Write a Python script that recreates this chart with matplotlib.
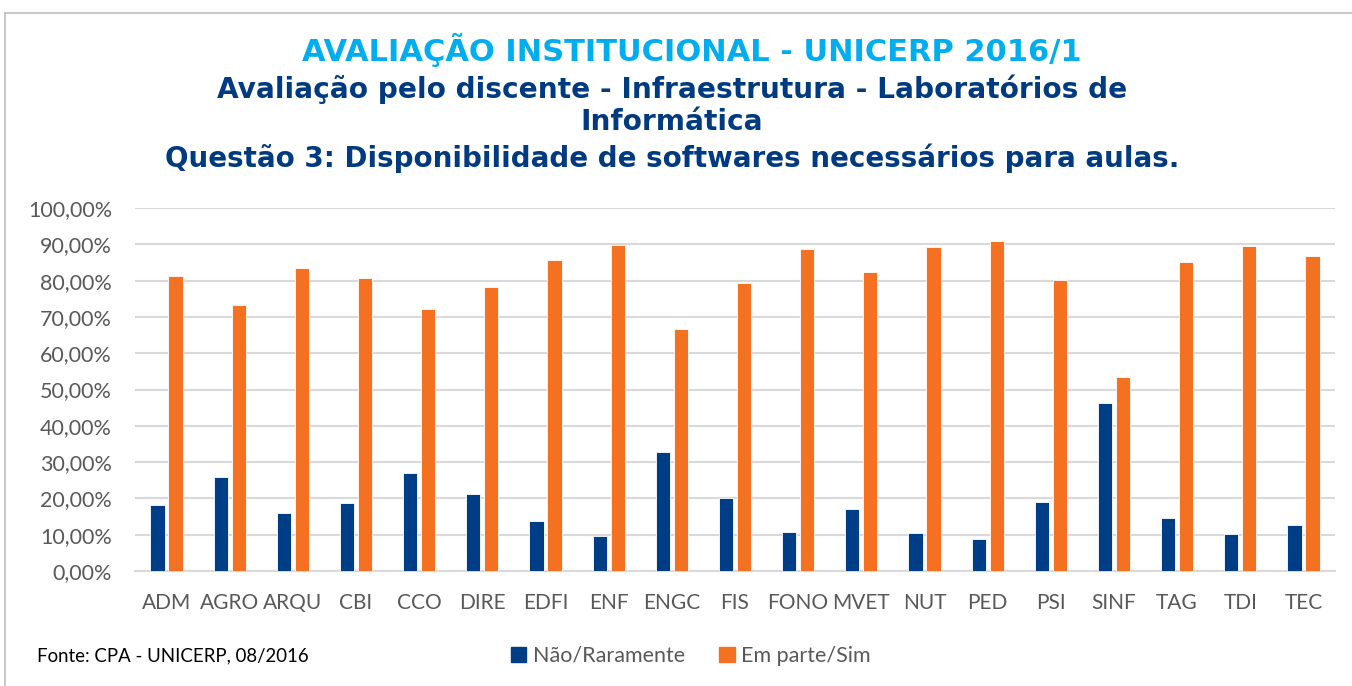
import numpy as np
import matplotlib.pyplot as plt
from matplotlib.lines import Line2D
from matplotlib.patches import Patch
from matplotlib.ticker import FuncFormatter

# data (percent)
cursos = ['ADM', 'AGRO', 'ARQU', 'CBI', 'CCO', 'DIRE', 'EDFI', 'ENF', 'ENGC', 'FIS',
          'FONO', 'MVET', 'NUT', 'PED', 'PSI', 'SINF', 'TAG', 'TDI', 'TEC']
nao_raramente = [18.1, 25.8, 16.0, 18.7, 27.1, 21.3, 13.8, 9.7, 32.8, 20.1,
                 10.7, 17.0, 10.4, 8.7, 19.1, 46.2, 14.5, 10.1, 12.6]
em_parte_sim = [81.3, 73.4, 83.5, 80.7, 72.2, 78.2, 85.6, 89.7, 66.7, 79.4,
                88.8, 82.4, 89.2, 90.9, 80.3, 53.4, 85.0, 89.4, 86.9]
series_labels = ['Não/Raramente', 'Em parte/Sim']

azul = '#003D87'
laranja = '#F37121'
cinza_txt = '#595959'
grade = '#D9D9D9'

fig = plt.figure(figsize=(13.52, 6.86), dpi=100)

# moldura do gráfico (topo e esquerda)
fig.add_artist(Line2D([5 / 1352, 1], [1 - 13 / 686, 1 - 13 / 686], color='#BFBFBF', lw=1.2))
fig.add_artist(Line2D([5 / 1352, 5 / 1352], [0, 1 - 13 / 686], color='#BFBFBF', lw=1.2))

ax = fig.add_axes([135 / 1352, 115 / 686, 1200 / 1352, 363 / 686])

x = np.arange(len(cursos))
w = 0.225
gap = 0.03
ax.bar(x - w / 2 - gap, nao_raramente, w, color=azul, edgecolor='white', linewidth=0.6,
       label=series_labels[0], zorder=3)
ax.bar(x + w / 2 + gap, em_parte_sim, w, color=laranja, edgecolor='white', linewidth=0.6,
       label=series_labels[1], zorder=3)

ax.set_xlim(-0.5, len(cursos) - 0.5)
ax.set_ylim(0, 100)
ax.set_yticks(np.arange(0, 101, 10))
ax.yaxis.set_major_formatter(FuncFormatter(lambda v, p: f'{v:.2f}%'.replace('.', ',')))
ax.set_xticks(x)
ax.set_xticklabels(cursos)
ax.grid(axis='y', color=grade, linewidth=1.5, zorder=0)
ax.tick_params(length=0, colors=cinza_txt)
ax.tick_params(axis='y', labelsize=15.5, pad=16.5)
ax.tick_params(axis='x', labelsize=15, pad=16)
for lab in ax.get_xticklabels() + ax.get_yticklabels():
    lab.set_fontfamily('Lato')
for s in ['top', 'right', 'left']:
    ax.spines[s].set_visible(False)
ax.spines['bottom'].set_color(grade)
ax.spines['bottom'].set_linewidth(1.5)

# títulos
fig.text(0.512, 1 - 50 / 686, 'AVALIAÇÃO INSTITUCIONAL - UNICERP 2016/1', ha='center', va='center',
         fontsize=22, fontweight='bold', color='#00AEEF', family='DejaVu Sans')
fig.text(0.497, 1 - 89 / 686, 'Avaliação pelo discente - Infraestrutura - Laboratórios de', ha='center',
         va='center', fontsize=20.2, fontweight='bold', color='#003A80', family='DejaVu Sans')
fig.text(0.497, 1 - 122 / 686, 'Informática', ha='center', va='center',
         fontsize=20.2, fontweight='bold', color='#003A80', family='DejaVu Sans')
fig.text(0.497, 1 - 158 / 686, 'Questão 3: Disponibilidade de softwares necessários para aulas.', ha='center',
         va='center', fontsize=20, fontweight='bold', color='#003A80', family='DejaVu Sans')

fig.text(37 / 1352, 1 - 656 / 686, 'Fonte: CPA - UNICERP, 08/2016', ha='left', va='center',
         fontsize=13.4, color='black', family='Lato')

handles = [Patch(color=azul), Patch(color=laranja)]
leg = fig.legend(handles, series_labels, loc='center', bbox_to_anchor=(691 / 1352, 1 - 656 / 686),
                 ncol=2, frameon=False, handlelength=0.7, handleheight=0.7, handletextpad=0.3,
                 columnspacing=1.6, prop={'family': 'Lato', 'size': 15.5})
for t in leg.get_texts():
    t.set_color(cinza_txt)

fig.savefig('out.png', dpi=100)
